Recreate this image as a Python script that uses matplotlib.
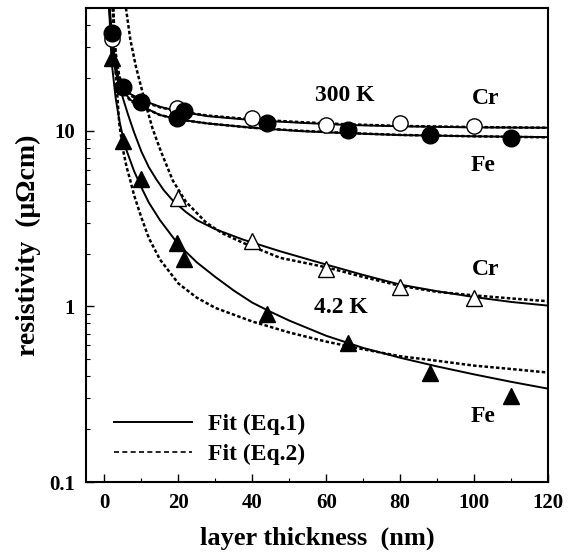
import matplotlib
matplotlib.use("Agg")
import matplotlib.pyplot as plt
from matplotlib.lines import Line2D
from matplotlib.ticker import FixedLocator, FuncFormatter, LogLocator, MultipleLocator, NullFormatter

plt.rcParams["font.family"] = ["Liberation Serif", "DejaVu Serif"]
plt.rcParams["font.weight"] = "bold"

# measured points
fe_x = [2, 5, 10, 19.5, 21.6, 44, 66, 88, 110]
fe_300k = [36, 17.7, 14.5, 11.8, 12.9, 11.1, 10.1, 9.5, 9.1]
fe_4k = [26, 8.7, 5.3, 2.3, 1.85, 0.9, 0.62, 0.415, 0.31]

cr_x = [2, 19.5, 40, 60, 80, 100]
cr_300k = [33.5, 13.5, 11.8, 10.8, 11.1, 10.6]
cr_4k_x = [20, 40, 60, 80, 100]
cr_4k = [4.15, 2.35, 1.64, 1.29, 1.12]

# fit curves
cr_300k_eq1_x = [1.3, 2, 3, 4, 5, 7, 10, 15, 20, 28, 40, 53, 65, 80, 100, 120]
cr_300k_eq1 = [50, 33, 23, 19.5, 18.0, 16.2, 15.0, 13.7, 12.9, 12.1, 11.5, 11.1, 10.8, 10.6, 10.45, 10.4]
cr_300k_eq2_x = [2.3, 3, 4, 5, 7, 10, 15, 20, 28, 40, 53, 65, 80, 100, 120]
cr_300k_eq2 = [50, 28, 20.5, 18.0, 15.9, 14.8, 13.6, 12.9, 12.2, 11.6, 11.2, 10.9, 10.65, 10.5, 10.4]

fe_300k_eq1_x = [1.25, 2, 3, 4, 5, 7, 10, 15, 20, 28, 40, 53, 65, 80, 100, 120]
fe_300k_eq1 = [50, 31, 21.5, 18.3, 16.9, 15.0, 13.8, 12.3, 11.6, 11.0, 10.4, 9.95, 9.7, 9.45, 9.3, 9.2]
fe_300k_eq2_x = [2.2, 3, 4, 5, 7, 10, 15, 20, 28, 40, 53, 65, 80, 100, 120]
fe_300k_eq2 = [50, 27, 19.5, 17.0, 14.8, 13.7, 12.3, 11.6, 11.0, 10.4, 10.0, 9.72, 9.47, 9.3, 9.17]

cr_4k_eq1_x = [1.4, 2, 3, 4, 5, 6.3, 8, 10, 12, 14, 16, 18.5, 22, 25, 30, 37.5, 47.5, 60, 70, 80, 90, 100, 110, 120]
cr_4k_eq1 = [50, 36, 24, 18.5, 15.3, 12.5, 9.8, 7.6, 6.2, 5.3, 4.6, 4.0, 3.45, 3.1, 2.75, 2.4, 2.06, 1.73, 1.51, 1.33, 1.22, 1.13, 1.06, 1.01]
cr_4k_eq2_x = [5.8, 7, 8.5, 10, 11, 13, 15.3, 18.5, 22, 27.5, 32, 37.5, 47.5, 60, 70, 80, 90, 100, 110, 120]
cr_4k_eq2 = [50, 33, 23.2, 17.5, 14.5, 10.3, 7.6, 5.2, 3.95, 3.0, 2.6, 2.3, 1.89, 1.67, 1.47, 1.31, 1.21, 1.155, 1.11, 1.07]

fe_4k_eq1_x = [1.3, 1.6, 2, 3, 4, 5, 6, 8, 10, 12, 15, 20, 25, 30, 35, 40, 45, 50, 60, 70, 80, 90, 100, 110, 120]
fe_4k_eq1 = [50, 33, 24, 15.5, 11.5, 9.2, 7.7, 5.9, 4.75, 3.9, 3.1, 2.25, 1.78, 1.47, 1.23, 1.05, 0.93, 0.83, 0.68, 0.58, 0.51, 0.455, 0.41, 0.372, 0.34]
fe_4k_eq2_x = [2.4, 3, 4, 5, 6, 7, 8, 10, 12, 15, 20, 25, 30, 40, 50, 60, 70, 80, 90, 100, 110, 120]
fe_4k_eq2 = [50, 22, 11, 7.8, 6.2, 5.2, 4.3, 3.2, 2.45, 1.85, 1.35, 1.12, 0.98, 0.82, 0.71, 0.63, 0.57, 0.52, 0.49, 0.46, 0.44, 0.42]

x_ticks = [0, 20, 40, 60, 80, 100, 120]
y_ticks = [0.1, 1, 10]

solid = dict(color="black", lw=1.4, ls="-")
dotted = dict(color="black", lw=1.8, ls=(0, (1.4, 0.9)))

fig = plt.figure(figsize=(5.78, 5.60), dpi=100)
ax = fig.add_axes([86 / 578, 1 - 482 / 560, (548 - 86) / 578, (482 - 8) / 560])

ax.plot(cr_300k_eq1_x, cr_300k_eq1, **solid)
ax.plot(cr_300k_eq2_x, cr_300k_eq2, **dotted)
ax.plot(fe_300k_eq1_x, fe_300k_eq1, **solid)
ax.plot(fe_300k_eq2_x, fe_300k_eq2, **dotted)
ax.plot(cr_4k_eq1_x, cr_4k_eq1, **solid)
ax.plot(cr_4k_eq2_x, cr_4k_eq2, **dotted)
ax.plot(fe_4k_eq1_x, fe_4k_eq1, **solid)
ax.plot(fe_4k_eq2_x, fe_4k_eq2, **dotted)

ax.plot(cr_x, cr_300k, "o", ms=11, mfc="white", mec="black", mew=1.0, ls="none", zorder=3)
ax.plot(fe_x, fe_300k, "o", ms=12, mfc="black", mec="black", ls="none", zorder=4)
ax.plot(cr_4k_x, cr_4k, "^", ms=12, mfc="white", mec="black", mew=1.0, ls="none", zorder=3)
ax.plot(fe_x, fe_4k, "^", ms=12, mfc="black", mec="black", ls="none", zorder=4)

ax.set_yscale("log")
ax.set_xlim(-5, 120)
ax.set_ylim(0.1, 50)

ax.xaxis.set_major_locator(FixedLocator(x_ticks))
ax.xaxis.set_minor_locator(MultipleLocator(10))
ax.yaxis.set_major_locator(FixedLocator(y_ticks))
ax.yaxis.set_major_formatter(FuncFormatter(lambda v, _: f"{v:g}"))
ax.yaxis.set_minor_locator(LogLocator(base=10, subs=range(2, 10)))
ax.yaxis.set_minor_formatter(NullFormatter())
ax.tick_params(which="both", direction="in", labelsize=15)
ax.tick_params(which="major", length=6, width=1.0, pad=8)
ax.tick_params(which="minor", length=3, width=0.8)
for side in ax.spines.values():
    side.set_linewidth(1.5)

ax.set_xlabel("layer thickness  (nm)", fontsize=19, fontweight="bold", labelpad=10)
ax.set_ylabel("resistivity  (μΩcm)", fontsize=20, fontweight="bold", labelpad=6)

lbl = dict(fontsize=17, fontweight="bold", ha="center", va="center")
ax.text(65, 15.8, "300 K", **lbl)
ax.text(103, 15.2, "Cr", **lbl)
ax.text(102.5, 6.3, "Fe", **lbl)
ax.text(103, 1.63, "Cr", **lbl)
ax.text(64, 0.99, "4.2 K", **lbl)
ax.text(102.5, 0.235, "Fe", **lbl)

handles = [
    Line2D([], [], color="black", lw=1.4, ls="-"),
    Line2D([], [], color="black", lw=1.2, ls=(0, (3, 2))),
]
ax.legend(handles, ["Fit (Eq.1)", "Fit (Eq.2)"], loc="lower left",
          bbox_to_anchor=(114 / 578, 1 - 465 / 560), bbox_transform=fig.transFigure,
          frameon=False, fontsize=17, handlelength=3.3, handletextpad=0.7,
          labelspacing=0.35, borderpad=0, borderaxespad=0)

fig.savefig("out.png", dpi=100)
